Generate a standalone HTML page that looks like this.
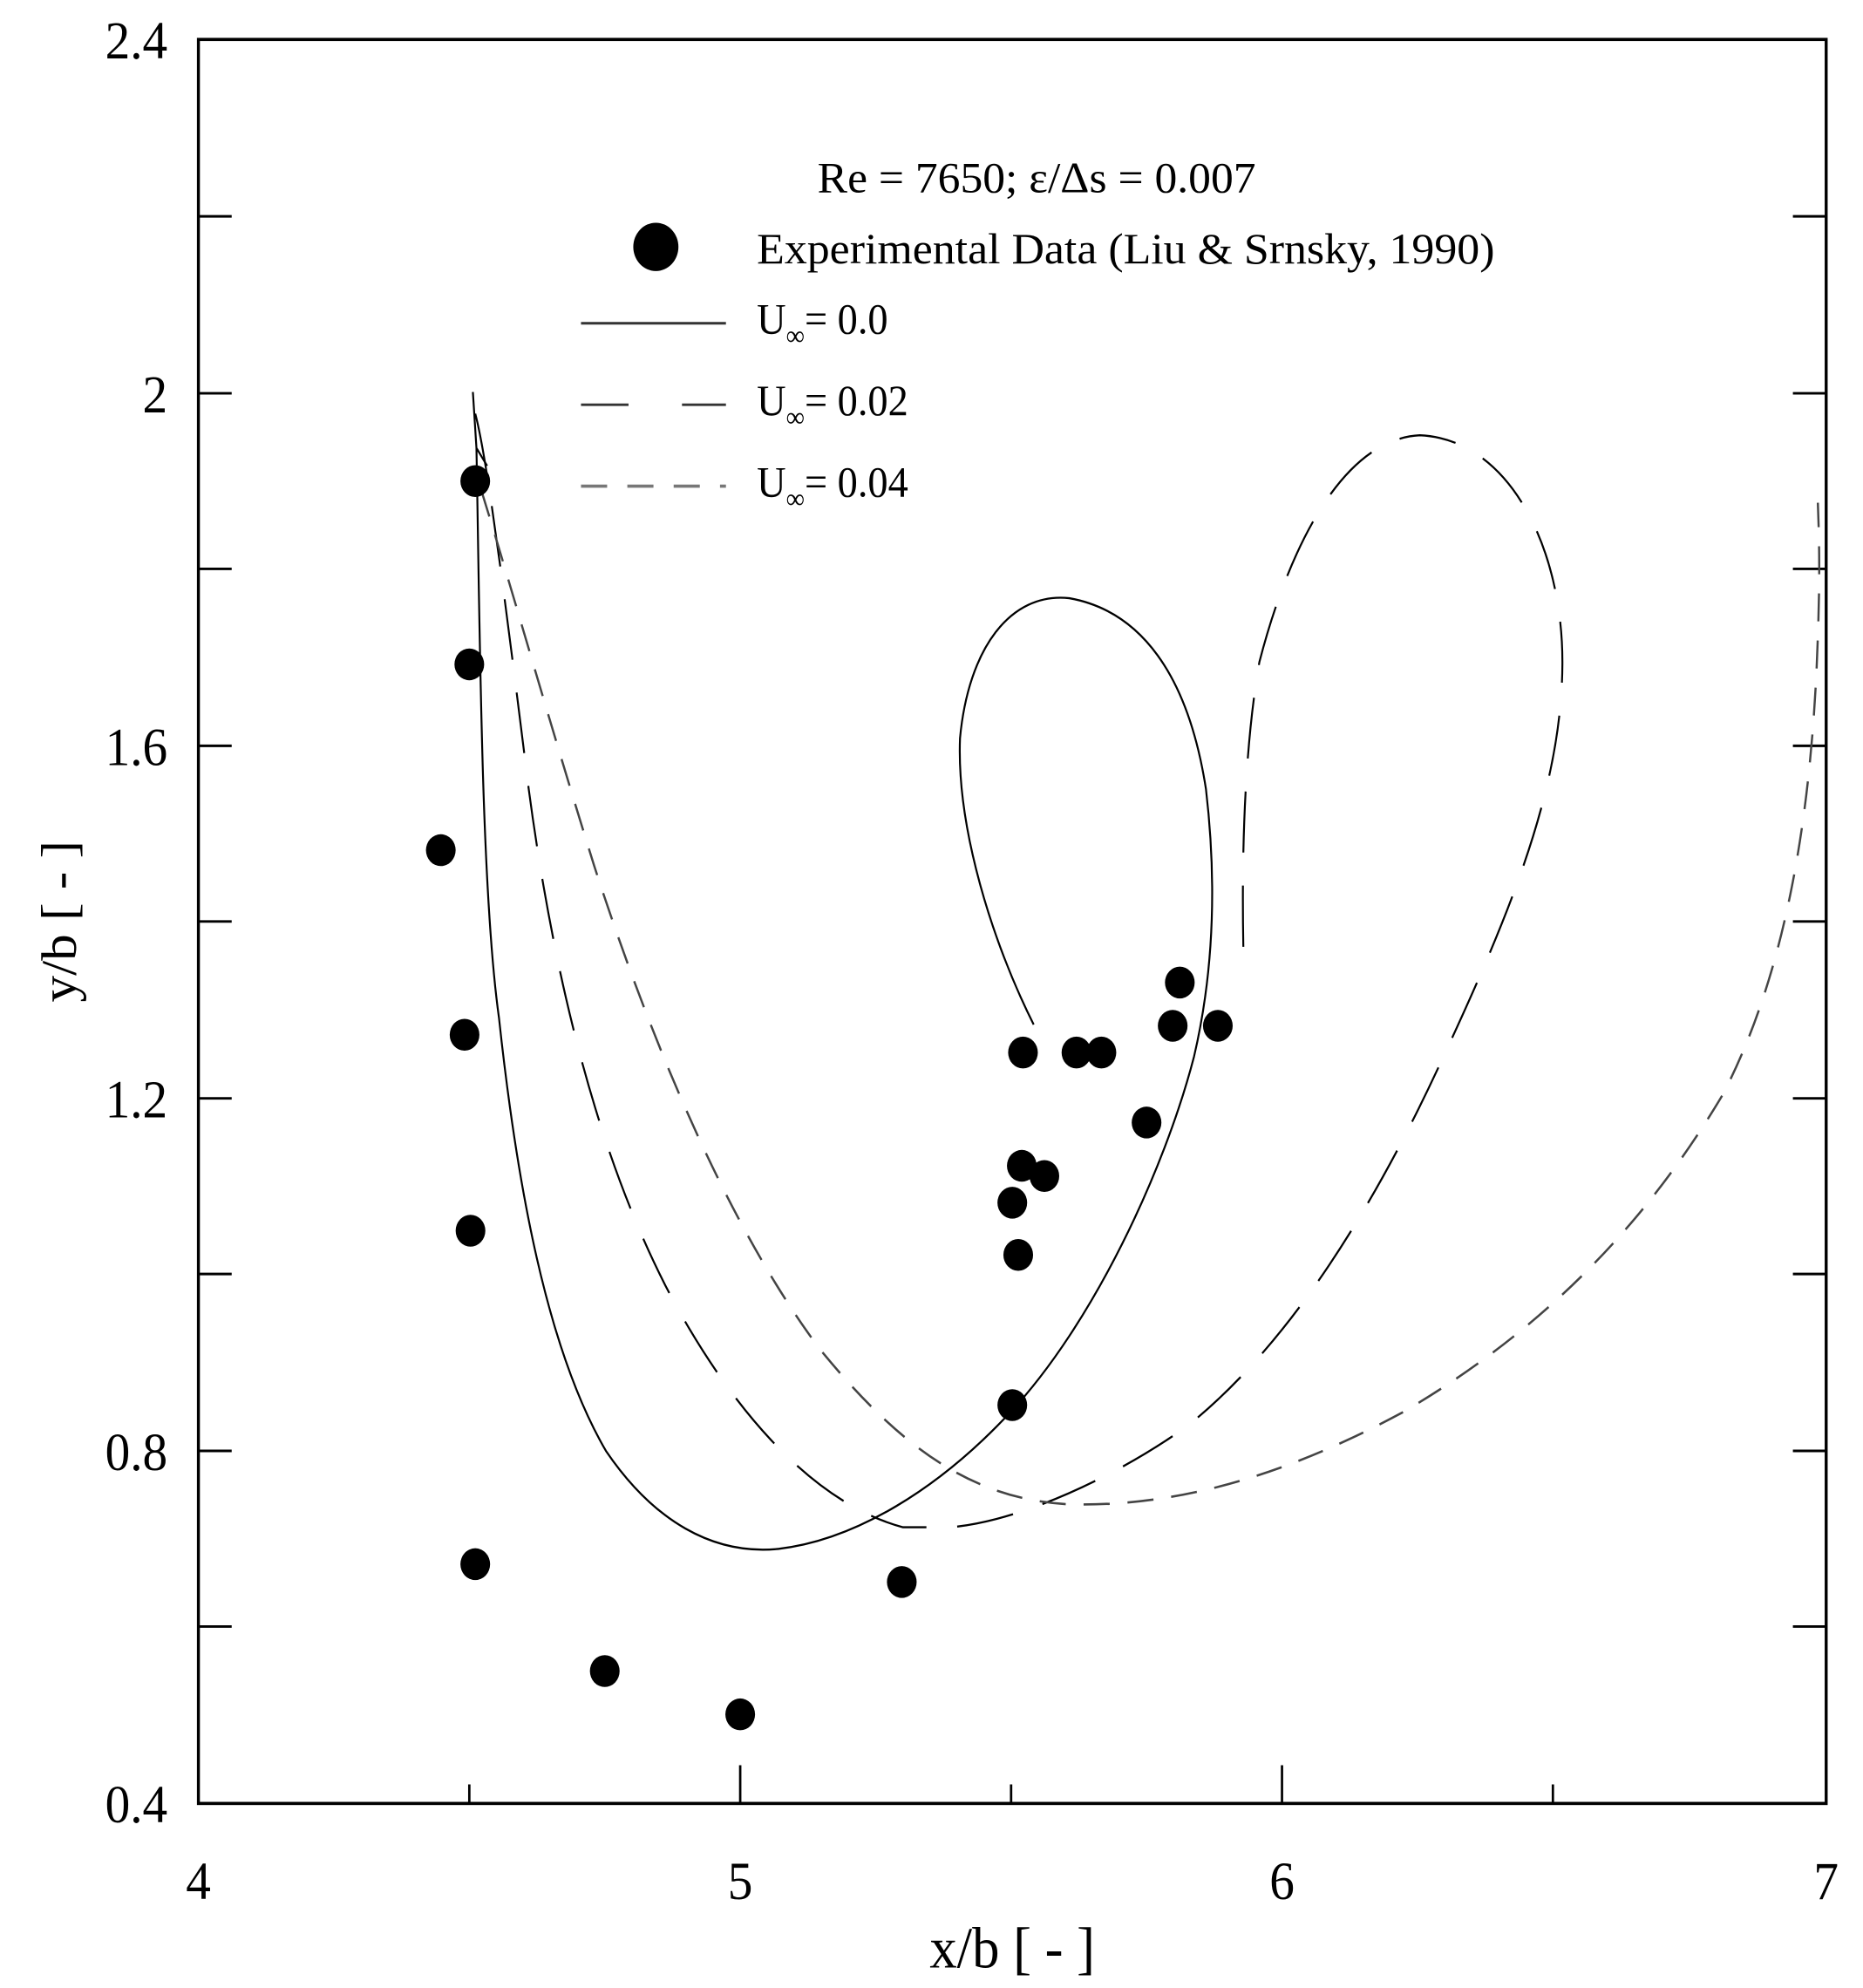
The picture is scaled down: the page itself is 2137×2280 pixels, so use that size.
<!DOCTYPE html>
<html><head><meta charset="utf-8"><style>html,body{margin:0;padding:0;background:#fff}svg{display:block}</style></head>
<body>
<svg width="2137" height="2280" viewBox="0 0 1568 1562" preserveAspectRatio="none" xmlns="http://www.w3.org/2000/svg" font-family="'Liberation Serif', serif">
<rect x="0" y="0" width="1568" height="1562" fill="#fff"/>
<rect x="167" y="31" width="1370" height="1386" fill="none" stroke="#000" stroke-width="2.5"/>
<g stroke="#000" stroke-width="2">
<path d="M167 170h28M167 309h28M167 447h28M167 586h28M167 724h28M167 863h28M167 1001h28M167 1140h28M167 1278h28"/>
<path d="M1509 170h28M1509 309h28M1509 447h28M1509 586h28M1509 724h28M1509 863h28M1509 1001h28M1509 1140h28M1509 1278h28"/>
<path d="M395 1417v-15M623 1417v-30M851 1417v-15M1079 1417v-30M1307 1417v-15"/>
</g>
<g font-size="42" text-anchor="end" fill="#000">
<text x="141" y="46">2.4</text><text x="141" y="324">2</text><text x="141" y="601">1.6</text>
<text x="141" y="878">1.2</text><text x="141" y="1155">0.8</text><text x="141" y="1432">0.4</text>
</g>
<g font-size="42" text-anchor="middle" fill="#000">
<text x="167" y="1492">4</text><text x="623" y="1492">5</text><text x="1079" y="1492">6</text><text x="1537" y="1492">7</text>
<text x="852" y="1546" font-size="46">x/b [ - ]</text>
</g>
<text transform="translate(64,724) rotate(-90)" font-size="42" text-anchor="middle">y/b [ - ]</text>
<g font-size="34" fill="#000">
<text x="688" y="151" textLength="369" lengthAdjust="spacingAndGlyphs">Re = 7650; ε/Δs = 0.007</text>
<text x="637" y="207" textLength="621" lengthAdjust="spacingAndGlyphs">Experimental Data (Liu &amp; Srnsky, 1990)</text>
<text x="637" y="262">U<tspan font-size="22" dy="9">∞</tspan><tspan dy="-9">= 0.0</tspan></text>
<text x="637" y="326">U<tspan font-size="22" dy="9">∞</tspan><tspan dy="-9">= 0.02</tspan></text>
<text x="637" y="390">U<tspan font-size="22" dy="9">∞</tspan><tspan dy="-9">= 0.04</tspan></text>
</g>
<circle cx="552" cy="194" r="19" fill="#000"/>
<path d="M489 254h122" stroke="#333" stroke-width="2"/>
<path d="M489 318h122" stroke="#333" stroke-width="2" stroke-dasharray="40 45"/>
<path d="M489 382h122" stroke="#777" stroke-width="2.5" stroke-dasharray="22 17"/>
<g fill="none" stroke="#000" stroke-width="1.6">
<path d="M398 308 L401 352 L410 366 M401 352 C404 500 405 700 420 800 C435 930 460 1060 510 1140 C550 1195 600 1222 655 1217 C720 1210 790 1170 850 1110 C920 1040 980 920 1005 830 C1020 770 1025 700 1015 620 C1000 530 960 480 900 470 C850 465 815 510 808 580 C805 650 835 740 870 805"/>
<path stroke-dasharray="48 26" d="M400 325 C410 360 425 470 445 620 C465 760 500 900 560 1010 C610 1100 680 1180 760 1200 L800 1200 C860 1195 940 1160 1000 1120 C1080 1060 1150 960 1210 840 C1270 720 1315 620 1315 520 C1315 430 1270 345 1195 342 C1130 345 1085 430 1060 520 C1045 600 1045 700 1047 765"/>
<path stroke="#444" stroke-width="1.8" stroke-dasharray="22 15" d="M405 385 C430 460 460 560 500 680 C545 810 610 960 690 1060 C760 1140 820 1178 900 1182 C990 1184 1080 1160 1180 1110 C1290 1050 1380 970 1450 860 C1500 770 1525 650 1530 500 C1532 450 1531 420 1530 395"/>
</g>
<g fill="#000">
<circle cx="400" cy="378" r="12.5"/><circle cx="395" cy="522" r="12.5"/><circle cx="371" cy="668" r="12.5"/>
<circle cx="391" cy="813" r="12.5"/><circle cx="396" cy="967" r="12.5"/><circle cx="400" cy="1229" r="12.5"/>
<circle cx="509" cy="1313" r="12.5"/><circle cx="623" cy="1347" r="12.5"/><circle cx="759" cy="1243" r="12.5"/>
<circle cx="852" cy="1104" r="12.5"/><circle cx="857" cy="986" r="12.5"/><circle cx="852" cy="945" r="12.5"/>
<circle cx="860" cy="916" r="12.5"/><circle cx="879" cy="924" r="12.5"/><circle cx="861" cy="827" r="12.5"/>
<circle cx="906" cy="827" r="12.5"/><circle cx="927" cy="827" r="12.5"/><circle cx="965" cy="882" r="12.5"/>
<circle cx="987" cy="806" r="12.5"/><circle cx="993" cy="772" r="12.5"/><circle cx="1025" cy="806" r="12.5"/>
</g>
</svg>
</body></html>
